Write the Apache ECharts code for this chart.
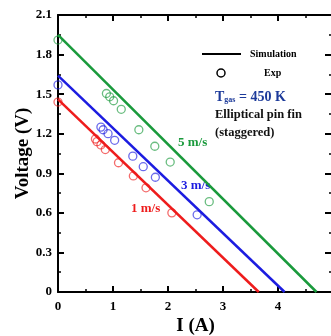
<!DOCTYPE html>
<html>
<head>
<meta charset="utf-8">
<script src="https://cdn.jsdelivr.net/npm/echarts@6/dist/echarts.min.js"></script>
<style>
  html, body { margin: 0; padding: 0; background: #fff; }
  #main { width: 331px; height: 336px; }
</style>
</head>
<body>
<div id="main"></div>
<script>
// simulation lines: [I, V] end points
var sim1 = [[0, 1.46], [3.65, 0]];
var sim3 = [[0, 1.64], [4.12, 0]];
var sim5 = [[0, 1.95], [4.70, 0]];

// experiment points
var exp1 = [[0, 1.44], [0.68, 1.16], [0.71, 1.14], [0.78, 1.115], [0.86, 1.08],
            [1.10, 0.98], [1.37, 0.88], [1.60, 0.79], [2.07, 0.60]];
var exp3 = [[0, 1.57], [0.78, 1.25], [0.82, 1.23], [0.91, 1.20], [1.03, 1.15],
            [1.36, 1.03], [1.55, 0.95], [1.77, 0.87], [2.53, 0.585]];
var exp5 = [[0, 1.91], [0.88, 1.505], [0.94, 1.48], [1.01, 1.45], [1.15, 1.385],
            [1.47, 1.23], [1.76, 1.105], [2.04, 0.985], [2.75, 0.685]];

var serif = 'Liberation Serif';
var red = '#ee1c1c', blue = '#1c1ce0', green = '#1a9a3c';

var myChart = echarts.init(document.getElementById('main'));

var tickLabel = { fontFamily: serif, fontWeight: 'bold', fontSize: 13, color: '#000' };
var axLine = { onZero: false, lineStyle: { color: '#000', width: 2 } };
var tick = { inside: true, length: 6, lineStyle: { color: '#000', width: 2 } };
var minor = { show: true, splitNumber: 2, length: 3, lineStyle: { color: '#000', width: 1.5 } };
var nameStyle = { fontFamily: serif, fontWeight: 'bold', fontSize: 19, color: '#000' };

function lineSeries(d, c) {
    return { type: 'line', data: d, symbol: 'none', lineStyle: { color: c, width: 2.5 }, z: 3 };
}
function expSeries(d, c) {
    return {
        type: 'scatter', data: d, symbol: 'circle', symbolSize: 8,
        itemStyle: { color: 'transparent', borderColor: c, borderWidth: 1.3, opacity: 0.65 },
        z: 4
    };
}

var option = {
    animation: false,
    grid: { left: 58, right: -2, top: 15, bottom: 44, containLabel: false, outerBoundsMode: 'none' },
    xAxis: [
        {
            type: 'value', min: 0, max: 5, interval: 1,
            name: 'I (A)', nameLocation: 'middle', nameGap: 25, nameMoveOverlap: false,
            nameTextStyle: nameStyle,
            axisLine: axLine, axisTick: tick, minorTick: minor,
            axisLabel: Object.assign({ showMaxLabel: false, margin: 8 }, tickLabel),
            splitLine: { show: false }
        },
        {
            type: 'value', min: 0, max: 5, interval: 1, position: 'top',
            axisLine: axLine, axisTick: tick, minorTick: minor,
            axisLabel: { show: false }, splitLine: { show: false }
        }
    ],
    yAxis: [
        {
            type: 'value', min: 0, max: 2.1, interval: 0.3,
            name: 'Voltage (V)', nameLocation: 'middle', nameGap: 25, nameMoveOverlap: false,
            nameTextStyle: nameStyle,
            axisLine: axLine, axisTick: tick, minorTick: minor,
            axisLabel: Object.assign({
                margin: 6,
                formatter: function (v) { return v === 0 ? '0' : v.toFixed(1); }
            }, tickLabel),
            splitLine: { show: false }
        },
        {
            type: 'value', min: 0, max: 2.1, interval: 0.3, position: 'right',
            axisLine: axLine, axisTick: { inside: true, length: 8, lineStyle: { color: '#000', width: 2 } },
            minorTick: { show: true, splitNumber: 2, length: 4, lineStyle: { color: '#000', width: 1.5 } },
            axisLabel: { show: false }, splitLine: { show: false }
        }
    ],
    series: [
        lineSeries(sim1, red), lineSeries(sim3, blue), lineSeries(sim5, green),
        expSeries(exp1, red), expSeries(exp3, blue), expSeries(exp5, green)
    ],
    graphic: [
        { type: 'line', shape: { x1: 202, y1: 54, x2: 241, y2: 54 }, style: { stroke: '#000', lineWidth: 2 } },
        { type: 'text', x: 250, y: 54, style: { text: 'Simulation', fontFamily: serif, fontWeight: 'bold', fontSize: 10, fill: '#000', verticalAlign: 'middle' } },
        { type: 'circle', shape: { cx: 221, cy: 73, r: 4 }, style: { fill: 'none', stroke: '#000', lineWidth: 1.5 } },
        { type: 'text', x: 264, y: 73, style: { text: 'Exp', fontFamily: serif, fontWeight: 'bold', fontSize: 10, fill: '#000', verticalAlign: 'middle' } },
        { type: 'text', x: 215, y: 97, style: {
            rich: {
                b: { fontFamily: serif, fontWeight: 'bold', fontSize: 14, fill: '#1c3a9a' },
                s: { fontFamily: serif, fontWeight: 'bold', fontSize: 8, fill: '#1c3a9a', padding: [6, 0, 0, 0] }
            },
            text: '{b|T}{s|gas}{b| = 450 K}', verticalAlign: 'middle' } },
        { type: 'text', x: 215, y: 115, style: { text: 'Elliptical pin fin', fontFamily: serif, fontWeight: 'bold', fontSize: 12.5, fill: '#111', verticalAlign: 'middle' } },
        { type: 'text', x: 215, y: 133, style: { text: '(staggered)', fontFamily: serif, fontWeight: 'bold', fontSize: 12.5, fill: '#111', verticalAlign: 'middle' } },
        { type: 'text', x: 178, y: 143, style: { text: '5 m/s', fontFamily: serif, fontWeight: 'bold', fontSize: 13, fill: green, verticalAlign: 'middle' } },
        { type: 'text', x: 181, y: 186, style: { text: '3 m/s', fontFamily: serif, fontWeight: 'bold', fontSize: 13, fill: blue, verticalAlign: 'middle' } },
        { type: 'text', x: 131, y: 209, style: { text: '1 m/s', fontFamily: serif, fontWeight: 'bold', fontSize: 13, fill: red, verticalAlign: 'middle' } }
    ]
};

myChart.setOption(option);
</script>
</body>
</html>
